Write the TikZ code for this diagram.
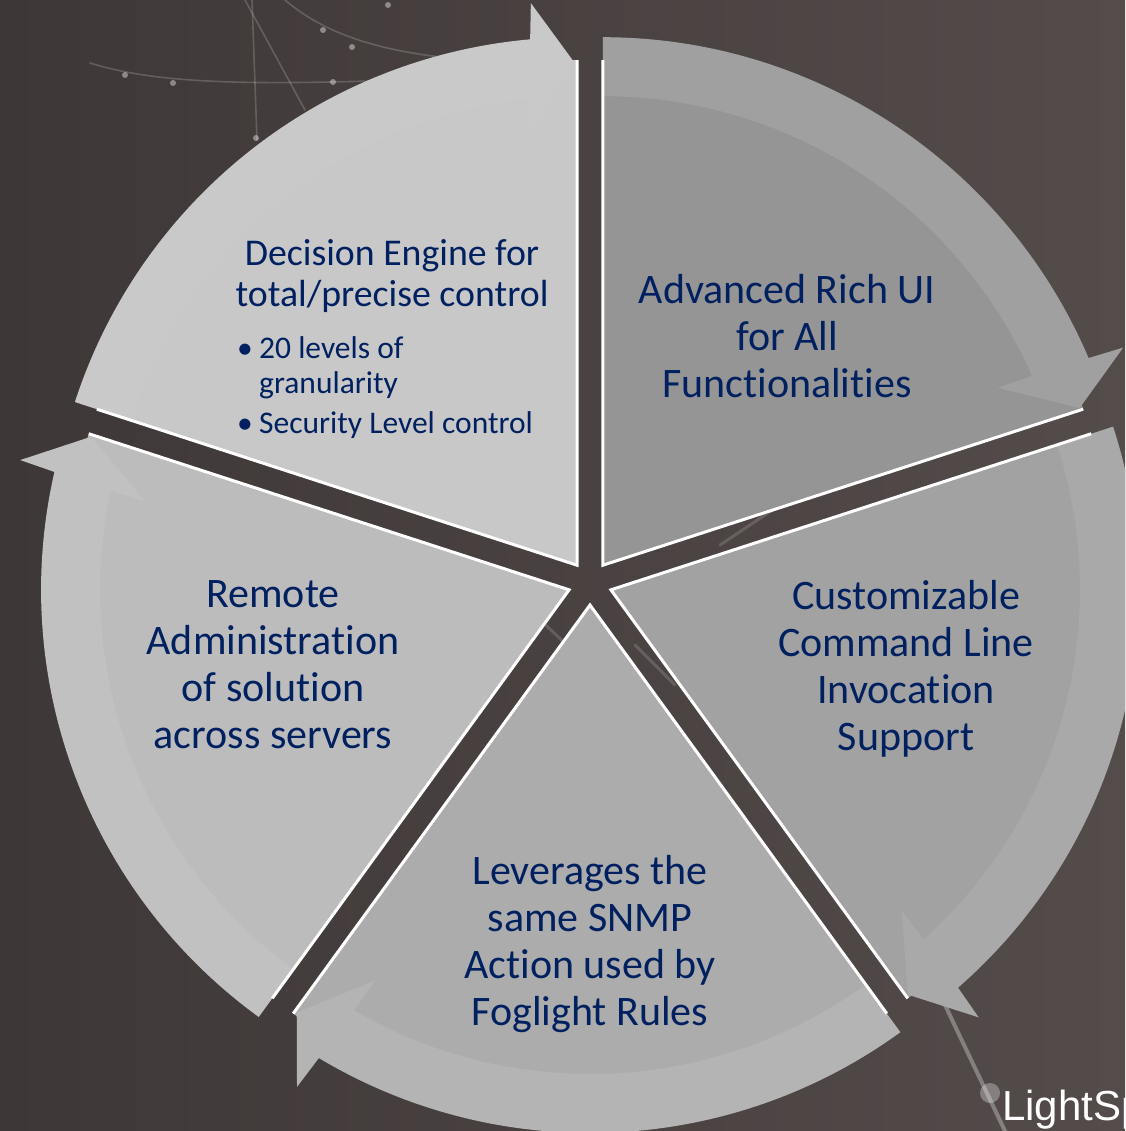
\documentclass[tikz,border=0pt]{standalone}
\usepackage{fontspec}
\setmainfont{Carlito}[Ligatures=NoCommon]
\newfontfamily\arialfont{Liberation Sans}
\usetikzlibrary{calc}
\definecolor{navy}{HTML}{002060}
\definecolor{bgA}{RGB}{62,55,55}
\definecolor{bgB}{RGB}{84,76,75}
\definecolor{pieA}{HTML}{C8C8C8}
\definecolor{bandA}{HTML}{C9C9C9}
\definecolor{pieB}{HTML}{959595}
\definecolor{bandB}{HTML}{A0A0A0}
\definecolor{pieC}{HTML}{A2A2A2}
\definecolor{bandC}{HTML}{A9A9A9}
\definecolor{pieD}{HTML}{ACACAC}
\definecolor{bandD}{HTML}{B4B4B4}
\definecolor{pieE}{HTML}{BCBCBC}
\definecolor{bandE}{HTML}{C1C1C1}
\tikzset{
  edgeline/.style={draw=white, line width=3pt, line join=miter},
  streak/.style={draw=white, line width=1.6pt, opacity=0.18, line cap=round},
  sparkle/.style={fill=white, opacity=0.4},
  maintext/.style={text=navy, align=center, inner sep=0pt, anchor=base,
    font=\fontsize{42}{47}\selectfont},
}
% #1 bisector, #2 a1 (head end), #3 a2 (tail end), #4 pie colour, #5 band colour
\newcommand\piepart[5]{%
  \coordinate (S) at ($(C)+(#1:22)$);
  \fill[#4] (S) -- ($(S)+(#2:505)$) arc[start angle=#2, end angle=#3, radius=505] -- cycle;
}
\newcommand\bandpart[5]{%
  \coordinate (S) at ($(C)+(#1:22)$);
  \fill[#5] ($(S)+(#3:528)$) arc[start angle=#3, end angle={#2+5.1}, radius=528]
    -- ($(S)+({#2+4.7}:564)$) -- ($(S)+({#2+0.25}:502)$) -- ($(S)+({#2+6.2}:433)$)
    -- ($(S)+({#2+5.8}:469)$) arc[start angle={#2+5.8}, end angle=#3, radius=469] -- cycle;
}
\newcommand\edgepart[5]{%
  \coordinate (S) at ($(C)+(#1:22)$);
  \draw[edgeline] ($(S)+(#2:505)$) -- (S) -- ($(S)+(#3:505)$);
}
\begin{document}
\begin{tikzpicture}[x=1pt,y=1pt]
\useasboundingbox (0,0) rectangle (1125,-1131);
\clip (0,0) rectangle (1125,-1131);
% background
\shade[left color=bgA, right color=bgB] (0,0) rectangle (1125,-1131);
% faint network lines, top left
\draw[streak] (90,-63) .. controls (160,-85) and (260,-86) .. (450,-78);
\draw[streak] (245,0) -- (305,-110);
\draw[streak] (252,0) -- (257,-140);
\draw[streak] (285,0) .. controls (320,-30) and (370,-50) .. (450,-58);
\foreach \p in {(173,-83),(333,-82),(323,-30),(352,-47),(388,-5),(256,-138),(125,-75)}
  \fill[sparkle] \p circle (3);
% light streaks
\draw[streak, line width=4pt, opacity=0.3] (945,-1005) -- (1005,-1131);
\fill[white, opacity=0.3] (990,-1093) circle (10);
\draw[streak, line width=3pt, opacity=0.15] (720,-545) -- (780,-505);
\draw[streak, line width=3pt, opacity=0.15] (535,-615) -- (570,-648);
\draw[streak, line width=3pt, opacity=0.15] (635,-645) -- (675,-685);
\coordinate (C) at (590,-583);
% pies
\piepart{126}{90}{162}{pieA}{bandA}
\piepart{54}{18}{90}{pieB}{bandB}
\piepart{-18}{-54}{18}{pieC}{bandC}
\piepart{-90}{-126}{-54}{pieD}{bandD}
\piepart{198}{162}{234}{pieE}{bandE}
% arrow bands
\bandpart{126}{90}{162}{pieA}{bandA}
\bandpart{54}{18}{90}{pieB}{bandB}
\bandpart{-18}{-54}{18}{pieC}{bandC}
\bandpart{-90}{-126}{-54}{pieD}{bandD}
\bandpart{198}{162}{234}{pieE}{bandE}
% white edges
\edgepart{126}{90}{162}{pieA}{bandA}
\edgepart{54}{18}{90}{pieB}{bandB}
\edgepart{-18}{-54}{18}{pieC}{bandC}
\edgepart{-90}{-126}{-54}{pieD}{bandD}
\edgepart{198}{162}{234}{pieE}{bandE}
% texts (base anchor = baseline of the last line)
\node[maintext, font=\fontsize{37.8}{41}\selectfont] (dec) at (392,-306)
  {Decision Engine for\\total/precise control};
\node[text=navy, align=left, inner sep=0pt, anchor=base west,
  font=\fontsize{31.5}{35}\selectfont] (decb) at (237,-433)
  {\makebox[22pt][l]{\textbullet}20 levels of\\\hspace*{22pt}granularity\\[5pt]\makebox[22pt][l]{\textbullet}Security Level control};
\node[maintext] (adv) at (787,-397) {Advanced Rich UI\\for All\\Functionalities};
\node[maintext] (cust) at (906,-750) {Customizable\\Command Line\\Invocation\\Support};
\node[maintext] (lev) at (590,-1025) {Leverages the\\same SNMP\\Action used by\\Foglight Rules};
\node[maintext] (rem) at (273,-748) {Remote\\Administration\\of solution\\across servers};
\node[text=white, inner sep=0pt, anchor=base west, font=\arialfont\fontsize{42}{48}\selectfont]
  (logo) at (1002,-1120) {LightSp};
\end{tikzpicture}
\end{document}
